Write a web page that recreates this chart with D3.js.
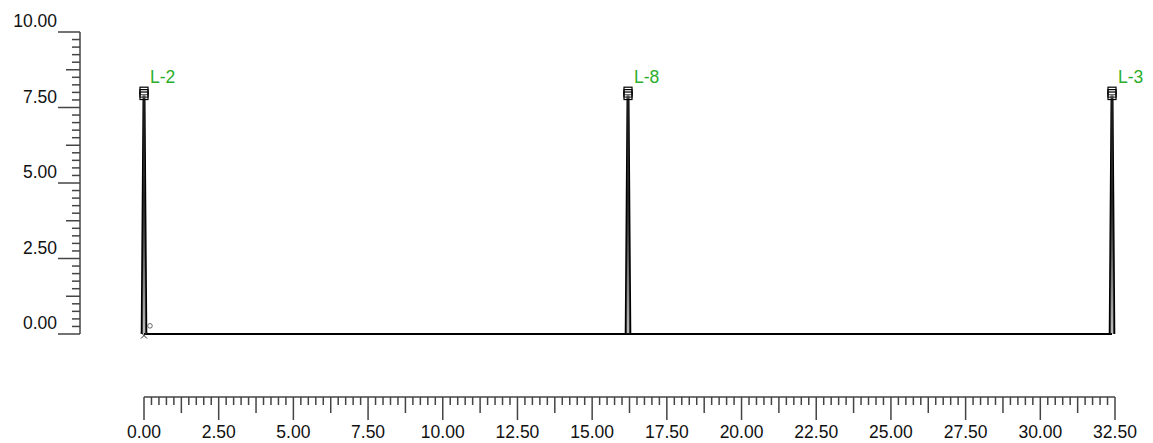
<!DOCTYPE html>
<html>
<head>
<meta charset="utf-8">
<script src="https://cdn.jsdelivr.net/npm/d3@7"></script>
<style>
  body { margin: 0; background: #fff; }
  svg text { font-family: "Liberation Sans", Arial, sans-serif; font-size: 17.5px; }
</style>
</head>
<body>
<svg id="chart" width="1153" height="443"></svg>
<script>
// Load names and positions along the span, with peak ordinates
var loadNames = ["L-2", "L-8", "L-3"];
var loadPositions = [0, 16.2, 32.4];
var loadPeaks = [7.8, 7.8, 7.8];
var loadSpread = [0.08, 0.08, 0.08];
// stacked square markers above each peak
var markerValues = [8.04, 7.96, 7.88];
// beam baseline
var beamStart = 0, beamEnd = 32.4;
// small symbols near the origin
var circlePoint = [0.2, 0.27];
var crossPoint = [0, -0.05];

var xTickValues = [0, 2.5, 5, 7.5, 10, 12.5, 15, 17.5, 20, 22.5, 25, 27.5, 30, 32.5];
var yTickValues = [0, 2.5, 5, 7.5, 10];

var svg = d3.select("#chart");

var x = d3.scaleLinear().domain([0, 32.5]).range([144, 1115]);
var y = d3.scaleLinear().domain([0, 10]).range([334, 32]);

var tickColor = "#444";

// Y axis
var yAxis = svg.append("g");
yAxis.append("line")
    .attr("x1", 80).attr("x2", 80)
    .attr("y1", y(10)).attr("y2", y(0))
    .attr("stroke", tickColor).attr("stroke-width", 1.5);
d3.range(0, 41).forEach(function(i) {
    var v = i * 0.25;
    var len = (i % 10 == 0) ? 22 : (i % 5 == 0 ? 14 : 8);
    yAxis.append("line")
        .attr("x1", 80 - len).attr("x2", 80)
        .attr("y1", y(v)).attr("y2", y(v))
        .attr("stroke", tickColor).attr("stroke-width", 1.5);
});
yAxis.selectAll("text").data(yTickValues).enter().append("text")
    .attr("x", 57)
    .attr("y", function(d) { return y(d) - 5; })
    .attr("text-anchor", "end")
    .attr("fill", "#111")
    .text(function(d) { return d.toFixed(2); });

// X axis (separate ruler at the bottom)
var axisY = 397;
var xAxis = svg.append("g");
xAxis.append("line")
    .attr("x1", x(0)).attr("x2", x(32.5))
    .attr("y1", axisY).attr("y2", axisY)
    .attr("stroke", tickColor).attr("stroke-width", 1.5);
d3.range(0, 131).forEach(function(i) {
    var v = i * 0.25;
    var len = (i % 10 == 0) ? 23 : (i % 5 == 0 ? 16 : 8);
    xAxis.append("line")
        .attr("x1", x(v)).attr("x2", x(v))
        .attr("y1", axisY).attr("y2", axisY + len)
        .attr("stroke", tickColor).attr("stroke-width", 1.5);
});
xAxis.selectAll("text").data(xTickValues).enter().append("text")
    .attr("x", function(d) { return x(d); })
    .attr("y", 438)
    .attr("text-anchor", "middle")
    .attr("fill", "#111")
    .text(function(d) { return d.toFixed(2); });

// Beam baseline
svg.append("line")
    .attr("x1", x(beamStart)).attr("x2", x(beamEnd))
    .attr("y1", y(0)).attr("y2", y(0))
    .attr("stroke", "#000").attr("stroke-width", 2);

// Spikes
var loads = loadNames.map(function(name, i) {
    return {name: name, pos: loadPositions[i], peak: loadPeaks[i], spread: loadSpread[i]};
});
var line = d3.line().x(function(p) { return x(p[0]); }).y(function(p) { return y(p[1]); });

var g = svg.selectAll("g.load").data(loads).enter().append("g").attr("class", "load");
g.append("path")
    .attr("fill", "none").attr("stroke", "#000").attr("stroke-width", 1.8)
    .attr("d", function(d) {
        return line([[d.pos - d.spread, 0], [d.pos - 0.02, d.peak], [d.pos - 0.02, d.peak + 0.1]]);
    });
g.append("path")
    .attr("fill", "none").attr("stroke", "#000").attr("stroke-width", 1.8)
    .attr("d", function(d) {
        return line([[d.pos + d.spread, 0], [d.pos + 0.02, d.peak], [d.pos + 0.02, d.peak + 0.1]]);
    });
g.append("path")
    .attr("fill", "none").attr("stroke", "#222").attr("stroke-width", 1)
    .attr("d", function(d) {
        return line([[d.pos - d.spread * 0.5, 0], [d.pos, d.peak + 0.1], [d.pos + d.spread * 0.5, 0]]);
    });
// stacked square markers
g.each(function(d) {
    var sel = d3.select(this);
    markerValues.forEach(function(m) {
        sel.append("rect")
            .attr("x", x(d.pos) - 4).attr("y", y(m) - 4)
            .attr("width", 8).attr("height", 7.5)
            .attr("fill", "#fff").attr("fill-opacity", 0.2)
            .attr("stroke", "#000").attr("stroke-width", 1.2);
    });
});
g.append("text")
    .attr("x", function(d) { return x(d.pos) + 6; })
    .attr("y", 83)
    .attr("fill", "#2aae2a")
    .text(function(d) { return d.name; });

// small symbols
svg.append("circle")
    .attr("cx", x(circlePoint[0])).attr("cy", y(circlePoint[1]))
    .attr("r", 2.3).attr("fill", "none").attr("stroke", "#666").attr("stroke-width", 1);
svg.append("path")
    .attr("d", "M" + (x(crossPoint[0]) - 3) + "," + (y(crossPoint[1]) - 3) + "L" + (x(crossPoint[0]) + 3) + "," + (y(crossPoint[1]) + 3) +
               "M" + (x(crossPoint[0]) - 3) + "," + (y(crossPoint[1]) + 3) + "L" + (x(crossPoint[0]) + 3) + "," + (y(crossPoint[1]) - 3))
    .attr("stroke", "#333").attr("stroke-width", 1);
</script>
</body>
</html>
